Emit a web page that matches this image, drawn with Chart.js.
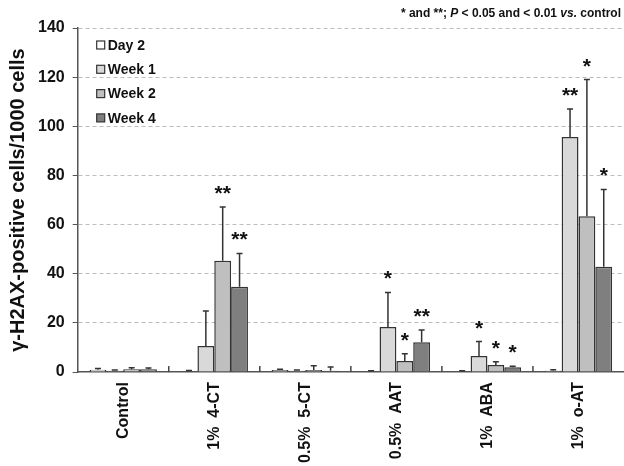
<!DOCTYPE html>
<html>
<head>
<meta charset="utf-8">
<script src="https://cdn.jsdelivr.net/npm/chart.js@4/dist/chart.umd.min.js"></script>
<style>
  html, body { margin: 0; padding: 0; background: #fff; }
  #wrap { width: 624px; height: 466px; }
</style>
</head>
<body>
<div id="wrap"><canvas id="chart"></canvas></div>
<script>
// categories and series
const groups = ['Control', '1%  4-CT', '0.5%  5-CT', '0.5%  AAT', '1%  ABA', '1%  o-AT'];
const seriesNames = ['Day 2', 'Week 1', 'Week 2', 'Week 4'];

const day2 = [1.0, 0.3, 0.8, 0.2, 0.2, 0.5];
const week1 = [0.5, 10.6, 0.5, 18.3, 6.5, 95.6];
const week2 = [1.2, 45.3, 0.8, 4.5, 2.9, 63.4];
const week4 = [1.2, 34.7, 0.5, 12.1, 2.0, 42.9];

// upper end of the error bars
const day2Err = [1.5, 0.6, 1.2, 0.5, 0.5, 0.9];
const week1Err = [0.8, 24.9, 0.8, 32.4, 12.4, 107];
const week2Err = [1.8, 67.2, 2.6, 7.5, 4.2, 119];
const week4Err = [1.7, 48.3, 2.1, 17.1, 2.4, 74.3];

// significance marks
const day2Stars = ['', '', '', '', '', ''];
const week1Stars = ['', '', '', '*', '*', '**'];
const week2Stars = ['', '**', '', '*', '*', '*'];
const week4Stars = ['', '**', '', '**', '*', '*'];

const yTicks = [0, 20, 40, 60, 80, 100, 120, 140];

const fills = ['#ffffff', '#d9d9d9', '#bfbfbf', '#7f7f7f'];
const FONT = '"Liberation Sans", Arial, sans-serif';

const allValues = [day2, week1, week2, week4];
const allErr = [day2Err, week1Err, week2Err, week4Err];
const allStars = [day2Stars, week1Stars, week2Stars, week4Stars];

// error bars (upward only) and asterisks
const errorBars = {
  id: 'errorBars',
  afterDatasetsDraw(chart) {
    const ctx = chart.ctx;
    const y = chart.scales.y;
    ctx.save();
    chart.data.datasets.forEach((ds, di) => {
      const meta = chart.getDatasetMeta(di);
      meta.data.forEach((bar, i) => {
        const top = y.getPixelForValue(allErr[di][i]);
        ctx.strokeStyle = '#333';
        ctx.lineWidth = 1.5;
        ctx.beginPath();
        ctx.moveTo(bar.x, bar.y);
        ctx.lineTo(bar.x, top);
        ctx.moveTo(bar.x - 3, top);
        ctx.lineTo(bar.x + 3, top);
        ctx.stroke();
        const s = allStars[di][i];
        if (s) {
          ctx.fillStyle = '#111';
          ctx.font = 'bold 21px ' + FONT;
          ctx.textAlign = 'center';
          ctx.textBaseline = 'alphabetic';
          ctx.fillText(s, bar.x, top - 7);
        }
      });
    });

    // small inside ticks between categories
    const x = chart.scales.x;
    const area = chart.chartArea;
    ctx.strokeStyle = '#444';
    ctx.lineWidth = 1.5;
    for (let i = 0; i < groups.length - 1; i++) {
      const px = (x.getPixelForValue(i) + x.getPixelForValue(i + 1)) / 2;
      ctx.beginPath();
      ctx.moveTo(px, area.bottom);
      ctx.lineTo(px, area.bottom - 6);
      ctx.stroke();
    }
    ctx.restore();
  }
};

// legend in the top-left of the plot, and the note above
const extras = {
  id: 'extras',
  afterDraw(chart) {
    const ctx = chart.ctx;
    const area = chart.chartArea;
    ctx.save();
    ctx.font = 'bold 14px ' + FONT;
    ctx.textBaseline = 'middle';
    ctx.textAlign = 'left';
    seriesNames.forEach((name, i) => {
      const cy = area.top + 17 + i * 24.3;
      const bx = area.left + 19;
      ctx.fillStyle = fills[i];
      ctx.fillRect(bx, cy - 4, 8, 8);
      ctx.strokeStyle = '#333';
      ctx.lineWidth = 1.2;
      ctx.strokeRect(bx, cy - 4, 8, 8);
      ctx.fillStyle = '#111';
      ctx.fillText(name, bx + 11, cy + 1);
    });

    const parts = [
      ['* and **; ', false], ['P', true], [' < 0.05 and < 0.01 ', false], ['vs.', true], [' control', false]
    ];
    let w = 0;
    parts.forEach(p => {
      ctx.font = (p[1] ? 'italic ' : '') + 'bold 12px ' + FONT;
      w += ctx.measureText(p[0]).width;
    });
    let px = 621 - w;
    ctx.fillStyle = '#111';
    parts.forEach(p => {
      ctx.font = (p[1] ? 'italic ' : '') + 'bold 12px ' + FONT;
      ctx.fillText(p[0], px, 14);
      px += ctx.measureText(p[0]).width;
    });
    ctx.restore();
  }
};

const datasets = seriesNames.map((name, i) => ({
  label: name,
  data: allValues[i],
  backgroundColor: fills[i],
  borderColor: '#333',
  borderWidth: 1.5,
  borderSkipped: 'bottom',
  categoryPercentage: 0.74,
  barPercentage: 1.0
}));

new Chart(document.getElementById('chart'), {
  type: 'bar',
  data: { labels: groups, datasets: datasets },
  options: {
    responsive: true,
    maintainAspectRatio: false,
    animation: false,
    layout: { padding: { top: 28, right: 0, left: 6, bottom: -7 } },
    plugins: {
      legend: { display: false },
      tooltip: { enabled: false }
    },
    scales: {
      x: {
        grid: { display: true, drawOnChartArea: false, drawTicks: false },
        border: { display: true, color: '#555', width: 1.5 },
        ticks: {
          color: '#111',
          font: { family: FONT, size: 16, weight: 'bold' },
          minRotation: 90,
          maxRotation: 90,
          padding: 10
        }
      },
      y: {
        min: 0,
        max: 140,
        afterBuildTicks: scale => { scale.ticks = yTicks.map(v => ({ value: v })); },
        grid: {
          color: ctx => ctx.tick && ctx.tick.value === 0 ? 'rgba(0,0,0,0)' : '#bdbdbd',
          tickColor: '#555',
          tickLength: 5,
          lineWidth: 1,
          tickBorderDash: []
        },
        border: { display: true, color: '#555', width: 1.5, dash: [4, 3] },
        ticks: {
          color: '#111',
          font: { family: FONT, size: 16, weight: 'bold' },
          padding: 8
        },
        title: {
          display: true,
          text: 'γ-H2AX-positive cells/1000 cells',
          color: '#111',
          font: { family: FONT, size: 20, weight: 'bold' },
          padding: { top: 0, bottom: 0 }
        }
      }
    }
  },
  plugins: [errorBars, extras]
});
</script>
</body>
</html>
